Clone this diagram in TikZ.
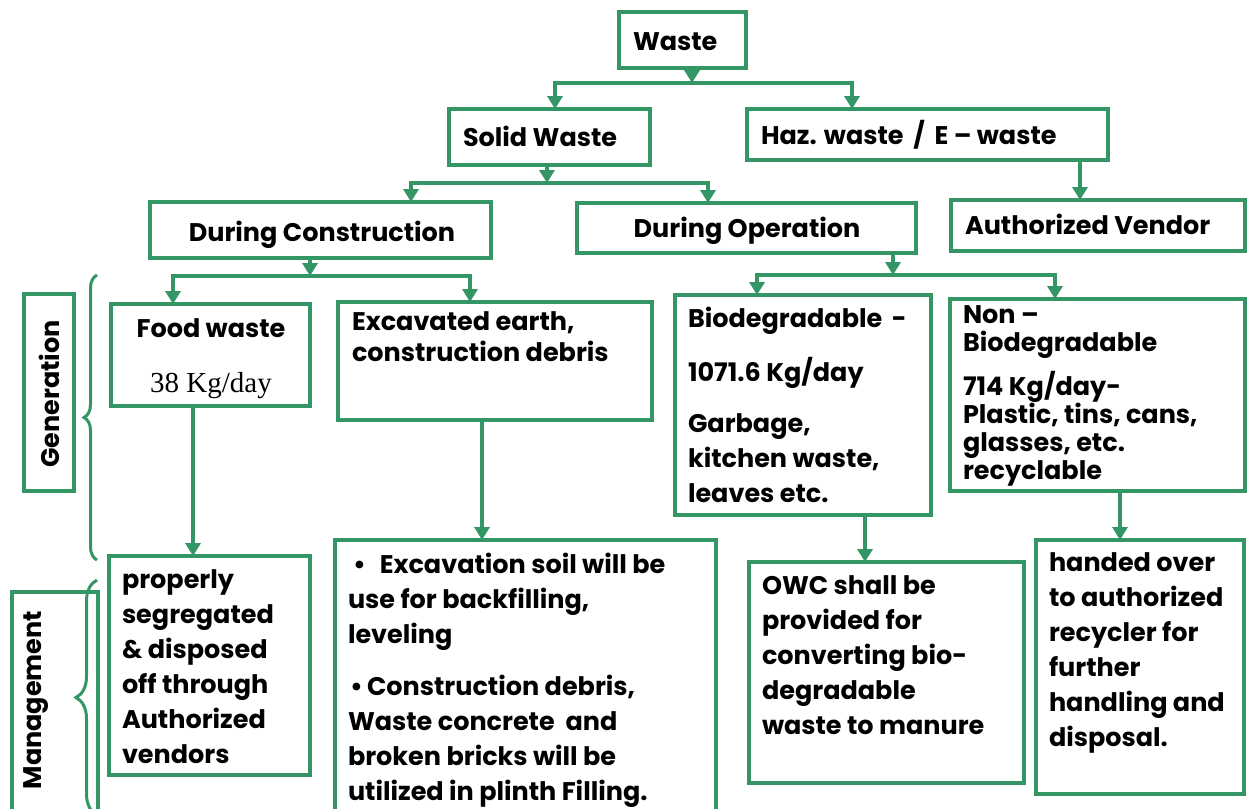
\documentclass[tikz,border=0pt]{standalone}
\usepackage{fontspec}
\setmainfont{Poppins}
\newfontfamily\serifnum{Liberation Serif}
\usetikzlibrary{arrows.meta,decorations.pathreplacing}
\definecolor{gr}{RGB}{52,150,100}
\newcommand{\wbox}[5]{\node[box, minimum width={#4-#2-4}, minimum height={#5-#3-4}] (#1) at ({(#2+#4)/2},{(#3+#5)/2}) {};}
\newcommand{\tightls}{\lineskiplimit=-20pt\relax}
\begin{document}
\begin{tikzpicture}[x=1pt,y=-1pt,
  box/.style={draw=gr, line width=4pt, inner sep=0pt, outer sep=0pt},
  txt/.style={inner sep=0pt, outer sep=0pt, align=left, text=black, font=\bfseries\fontsize{25.5}{35}\selectfont\tightls},
  arr/.style={draw=gr, line width=4pt, -{Triangle[width=15pt,length=13pt]}},
  brc/.style={draw=gr, line width=3pt, decorate, decoration={brace, amplitude=#1}},
]
\useasboundingbox[fill=white] (0,0) rectangle (1249,808);
% boxes
\wbox{waste}{617}{10}{748}{70}
\wbox{solid}{447}{107}{652}{167}
\wbox{haz}{745}{107}{1110}{162}
\wbox{cons}{148}{200}{493}{260}
\wbox{oper}{575}{201}{918}{255}
\wbox{vend}{949}{198}{1247}{253}
\wbox{gen}{22}{292}{76}{493}
\wbox{food}{109}{302}{312}{408}
\wbox{exc}{336}{300}{654}{422}
\wbox{bio}{673}{293}{933}{517}
\wbox{nonbio}{948}{297}{1247}{493}
\wbox{prop}{107}{554}{312}{777}
\wbox{soil}{333}{538}{718}{830}
\wbox{owc}{747}{560}{1026}{785}
\wbox{hand}{1034}{538}{1246}{796}
\wbox{mgmt}{10}{590}{100}{830}
% texts
\node[txt, anchor=base west] (twaste) at (633,51) {Waste};
\node[txt, anchor=base west] (tsolid) at (463,146) {Solid Waste};
\node[txt, anchor=base west] (thaz) at (761,144) {Haz. waste \,/\, E – waste};
\node[txt, anchor=base] (tcons) at (322,241) {During Construction};
\node[txt, anchor=base] (toper) at (747,237) {During Operation};
\node[txt, anchor=base west] (tvend) at (965,234) {Authorized Vendor};
\node[txt, rotate=90] (tgen) at (49,394) {Generation};
\node[txt, rotate=90] (tmgmt) at (36,700) {Management};
\node[txt, anchor=base] (tfood) at (211,337) {Food waste};
\node[txt, anchor=base, font=\serifnum\fontsize{29}{30}\selectfont] (tkg) at (211,392) {38 Kg/day};
\node[txt, anchor=north west, font=\bfseries\fontsize{25.5}{31}\selectfont\tightls] (texc) at (352,312) {Excavated earth,\\construction debris};
\node[txt, anchor=north west] (tbio) at (688,307) {Biodegradable \,-\\[19pt]1071.6 Kg/day\\[16pt]Garbage,\\kitchen waste,\\leaves etc.};
\node[txt, anchor=north west, font=\bfseries\fontsize{25.5}{28}\selectfont\tightls] (tnon) at (963,306) {Non –\\Biodegradable\\[16pt]714 Kg/day-\\Plastic, tins, cans,\\glasses, etc.\\recyclable};
\node[txt, anchor=north west] (tprop) at (122,570) {properly\\segregated\\\& disposed\\off through\\Authorized\\vendors};
\node[txt, anchor=north west] (tsoil) at (348,553) {\hspace{5pt}\textbullet\hspace{14pt}Excavation soil will be\\use for backfilling,\\leveling\\[17pt]\hspace{2pt}\textbullet\,Construction debris,\\Waste concrete \ and\\broken bricks will be\\utilized in plinth Filling.};
\node[txt, anchor=north west] (towc) at (762,576) {OWC shall be\\provided for\\converting bio-\\degradable\\waste to manure};
\node[txt, anchor=north west] (thand) at (1049,553) {handed over\\to authorized\\recycler for\\further\\handling and\\disposal.};
% junctions
\coordinate (b1) at (692,83); \coordinate (b1l) at (555,83); \coordinate (b1r) at (852,83);
\coordinate (b2) at (547,183); \coordinate (b2l) at (411,183); \coordinate (b2r) at (708,183);
\coordinate (b3) at (310,276); \coordinate (b3l) at (173,276); \coordinate (b3r) at (470,276);
\coordinate (b4) at (893,275); \coordinate (b4l) at (757,275); \coordinate (b4r) at (1055,275);
\coordinate (hx) at (1080,0); \coordinate (fx) at (193,0); \coordinate (ex) at (482,0);
\coordinate (bx) at (865,0); \coordinate (nx) at (1120,0);
% connectors
\draw[arr] (waste.south -| b1) -- (b1);
\draw[arr] (b1) -- (b1l) -- (solid.north -| b1l);
\draw[arr] (b1) -- (b1r) -- (haz.north -| b1r);
\draw[arr] (solid.south -| b2) -- (b2);
\draw[arr] (b2) -- (b2l) -- (cons.north -| b2l);
\draw[arr] (b2) -- (b2r) -- (oper.north -| b2r);
\draw[arr] (haz.south -| hx) -- (vend.north -| hx);
\draw[arr] (cons.south -| b3) -- (b3);
\draw[arr] (b3) -- (b3l) -- (food.north -| b3l);
\draw[arr] (b3) -- (b3r) -- (exc.north -| b3r);
\draw[arr] (oper.south -| b4) -- (b4);
\draw[arr] (b4) -- (b4l) -- (bio.north -| b4l);
\draw[arr] (b4) -- (b4r) -- (nonbio.north -| b4r);
\draw[arr] (food.south -| fx) -- (prop.north -| fx);
\draw[arr] (exc.south -| ex) -- (soil.north -| ex);
\draw[arr] (bio.south -| bx) -- (owc.north -| bx);
\draw[arr] (nonbio.south -| nx) -- (hand.north -| nx);
% braces
\draw[brc=13pt] (97,560) -- (97,275);
\draw[brc=21pt] (97,815) -- (97,580);
\end{tikzpicture}
\end{document}
